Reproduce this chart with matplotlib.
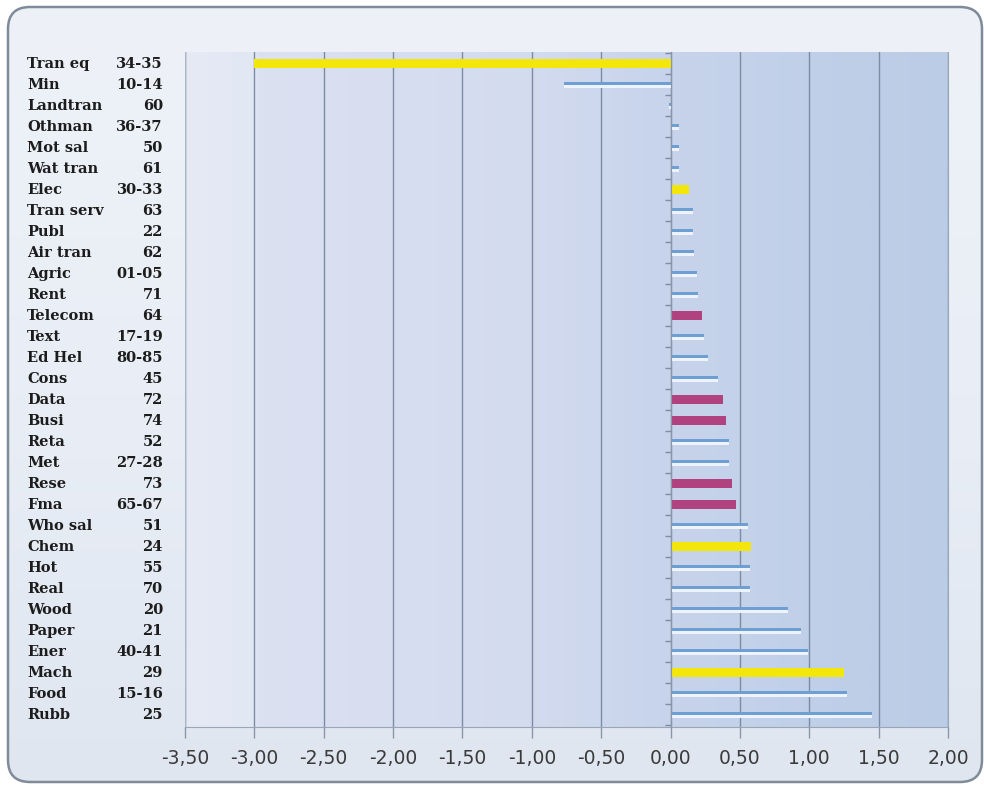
import numpy as np
import matplotlib
matplotlib.use('Agg')
import matplotlib.pyplot as plt
from matplotlib.patches import FancyBboxPatch
from matplotlib.colors import LinearSegmentedColormap
from matplotlib.ticker import FuncFormatter, MultipleLocator


names = ['Tran eq', 'Min', 'Landtran', 'Othman', 'Mot sal', 'Wat tran', 'Elec', 'Tran serv',
         'Publ', 'Air tran', 'Agric', 'Rent', 'Telecom', 'Text', 'Ed Hel', 'Cons', 'Data',
         'Busi', 'Reta', 'Met', 'Rese', 'Fma', 'Who sal', 'Chem', 'Hot', 'Real', 'Wood',
         'Paper', 'Ener', 'Mach', 'Food', 'Rubb']
codes = ['34-35', '10-14', '60', '36-37', '50', '61', '30-33', '63', '22', '62', '01-05', '71',
         '64', '17-19', '80-85', '45', '72', '74', '52', '27-28', '73', '65-67', '51', '24',
         '55', '70', '20', '21', '40-41', '29', '15-16', '25']
values = [-3.00, -0.77, -0.01, 0.06, 0.06, 0.06, 0.13, 0.16, 0.165, 0.17, 0.19, 0.20,
          0.23, 0.24, 0.27, 0.34, 0.38, 0.40, 0.42, 0.42, 0.44, 0.47, 0.555, 0.58,
          0.57, 0.57, 0.85, 0.94, 0.99, 1.25, 1.27, 1.45]
# y = highlighted yellow, m = highlighted magenta, b = ordinary
groups = ['y', 'b', 'b', 'b', 'b', 'b', 'y', 'b', 'b', 'b', 'b', 'b', 'm', 'b', 'b', 'b',
          'm', 'm', 'b', 'b', 'm', 'm', 'b', 'y', 'b', 'b', 'b', 'b', 'b', 'y', 'b', 'b']

fig = plt.figure(figsize=(9.84, 7.87), dpi=100)

# rounded outer frame with soft gradient
frame = FancyBboxPatch((0.08, 0.05), 9.74, 7.75, boxstyle='round,pad=0,rounding_size=0.22',
                       transform=fig.dpi_scale_trans, facecolor='none',
                       edgecolor='#7f8b99', linewidth=1.8, zorder=2)
bg_ax = fig.add_axes([0, 0, 1, 1], zorder=-10)
bg_ax.axis('off')
frame_cmap = LinearSegmentedColormap.from_list('frame', ['#dfe6f0', '#e9eef6', '#eef2f8'])
grad = np.linspace(0, 1, 256).reshape(-1, 1)
img = bg_ax.imshow(grad, extent=[0, 1, 0, 1], aspect='auto', cmap=frame_cmap,
                   origin='lower', transform=bg_ax.transAxes)
img.set_clip_path(frame)
fig.patches.append(frame)

ax = fig.add_axes([185 / 984, 1 - 727 / 787, (948 - 185) / 984, (727 - 52) / 787])
ax.set_xlim(-3.5, 2.0)
n = len(names)
ax.set_ylim(n - 1 + 0.58, -0.55)

# plot area gradient (left band a bit lighter)
plot_cmap = LinearSegmentedColormap.from_list(
    'plot', [(0, '#e5eaf5'), (0.09, '#e2e7f4'), (0.095, '#dce1f2'), (0.45, '#d3dbef'),
             (0.65, '#c6d3eb'), (1, '#bbcce6')])
xgrad = np.linspace(0, 1, 512).reshape(1, -1)
ax.imshow(xgrad, extent=[-3.5, 2.0, n - 1 + 0.58, -0.55], aspect='auto', cmap=plot_cmap,
          zorder=0)

pos = np.arange(n)
vals = np.array(values)
grp = np.array(groups)

blue = grp == 'b'
ax.barh(pos[blue] - 0.07, vals[blue], height=0.15, color='#6e9fd2', zorder=3)
ax.barh(pos[blue] + 0.09, vals[blue], height=0.17, color='#eef3fb', zorder=3)
yel = grp == 'y'
ax.barh(pos[yel], vals[yel], height=0.42, color='#f2e60a', zorder=3)
mag = grp == 'm'
ax.barh(pos[mag], vals[mag], height=0.42, color='#b0437f', zorder=3)

# grid and axes
ax.xaxis.set_major_locator(MultipleLocator(0.5))
ax.xaxis.set_major_formatter(FuncFormatter(lambda v, p: ('%.2f' % v).replace('.', ',')))
ax.grid(axis='x', color='#7d8ca3', linewidth=1.0, zorder=1)
ax.set_axisbelow(True)
ax.tick_params(axis='x', direction='out', length=8, width=1, color='#8a96a8',
               labelsize=13.5, labelcolor='#3a3a3a', pad=8)
ax.spines['left'].set_position(('data', 0))
ax.spines['left'].set_color('#8a96a8')
ax.spines['left'].set_zorder(4)
ax.spines['bottom'].set_color('#9aa6b6')
ax.spines['top'].set_visible(False)
ax.spines['right'].set_color('#9aa6b6')
ax.set_yticks(np.arange(n + 1) - 0.5)
ax.set_yticklabels([])
ax.tick_params(axis='y', direction='out', length=4, width=1, color='#7d8ca3')
ax.axvline(-3.5, color='#aab5c5', linewidth=1.0, zorder=1)

# two-column category labels
tr = ax.get_yaxis_transform()
for i in range(n):
    ax.text(-0.207, i, names[i], transform=tr, ha='left', va='center',
            family='DejaVu Serif', fontweight='bold', fontsize=10.5, color='#1c1c1c',
            clip_on=False)
    ax.text(-0.029, i, codes[i], transform=tr, ha='right', va='center',
            family='DejaVu Serif', fontweight='bold', fontsize=10.5, color='#1c1c1c',
            clip_on=False)

fig.savefig('out.png', dpi=100)
